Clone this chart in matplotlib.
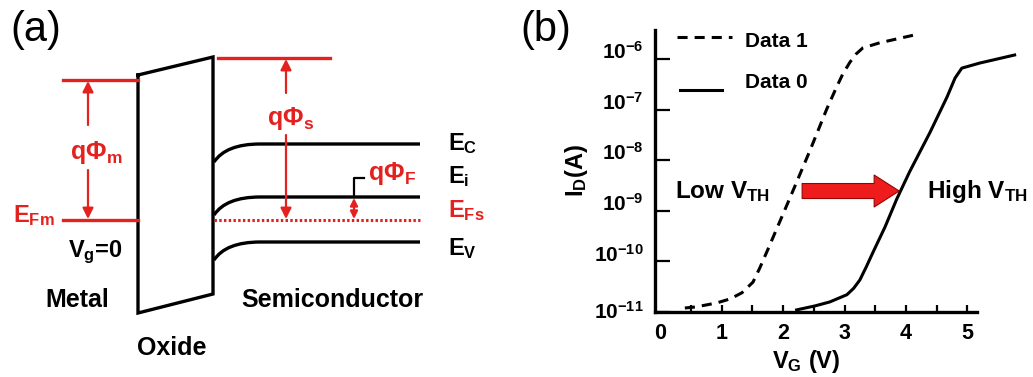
import numpy as np
import matplotlib
matplotlib.use('Agg')
import matplotlib.pyplot as plt
import matplotlib.patches as mpatches
from matplotlib.path import Path
from matplotlib.ticker import NullLocator

plt.rcParams['font.family'] = ['Liberation Sans', 'DejaVu Sans']
plt.rcParams['font.weight'] = 'bold'
plt.rcParams['mathtext.fontset'] = 'custom'
plt.rcParams['mathtext.rm'] = 'Liberation Sans:bold'
plt.rcParams['mathtext.it'] = 'Liberation Sans:bold'
plt.rcParams['mathtext.bf'] = 'Liberation Sans:bold'

RED = '#e3221f'
W, H = 1033, 377

# ---- (b) Id-Vg curves ----
vg_data1 = [0.4, 0.58, 0.92, 1.14, 1.33, 1.51, 1.62, 1.75, 2.11, 2.44, 2.71,
            2.85, 2.97, 3.09, 3.19, 3.3, 3.58, 4.12]
id_data1 = [1.2e-11, 1.26e-11, 1.51e-11, 1.82e-11, 2.4e-11, 3.9e-11, 7.4e-11,
            1.7e-10, 1.78e-9, 1.58e-8, 1.02e-7, 2.45e-7, 5.0e-7, 8.7e-7,
            1.26e-6, 1.66e-6, 2.1e-6, 2.95e-6]
vg_data0 = [2.22, 2.52, 2.76, 3.04, 3.15, 3.25, 3.35, 3.46, 3.66, 3.85, 4.06,
            4.39, 4.67, 4.8, 4.91, 5.2, 5.77]
id_data0 = [1.1e-11, 1.32e-11, 1.58e-11, 2.2e-11, 2.95e-11, 4.3e-11, 7.6e-11,
            1.48e-10, 4.8e-10, 1.7e-9, 5.9e-9, 3.5e-8, 1.78e-7, 4.2e-7, 6.6e-7,
            8.3e-7, 1.2e-6]
vg_ticks = [0, 1, 2, 3, 4, 5]
vg_minor = [0.5, 1.5, 2.5, 3.5, 4.5]
id_ticks = [1e-11, 1e-10, 1e-9, 1e-8, 1e-7, 1e-6]
id_ticklabels = [r'$10^{-11}$', r'$10^{-10}$', r'$10^{-9}$', r'$10^{-8}$',
                 r'$10^{-7}$', r'$10^{-6}$']
shift_vg = [2.31, 3.89]
shift_id = 2.46e-9

# ---- (a) band diagram levels (figure pixel space, y down) ----
metal_x = [63, 138]
vac_metal_y = 80
efm_y = 220
vac_semi_x = [218, 330]
vac_semi_y = 58
oxide_x = [138, 213, 213, 138]
oxide_y = [75, 57, 294, 313]
semi_x = [214, 420]
band_labels = [r'E$_C$', r'E$_i$', r'E$_V$']
band_y = [144, 197, 242]
band_label_y = [150, 183, 255]
bend = 18
efs_y = 220

fig = plt.figure(figsize=(W / 100, H / 100), dpi=100)

# panel (b)
ax = fig.add_axes([655 / W, (H - 312) / H, (1022.6 - 655) / W, 282 / H])
ax.set_yscale('log')
ax.plot(vg_data1, id_data1, color='k', lw=2.2, ls=(0, (3.3, 2.3)))
ax.plot(vg_data0, id_data0, color='k', lw=2.2, solid_joinstyle='round')
ax.set_xlim(-0.086, 5.9)
ax.set_ylim(1e-11, 10 ** -5.427)
ax.set_yticks(id_ticks)
ax.set_yticklabels(id_ticklabels, fontsize=15)
ax.yaxis.set_minor_locator(NullLocator())
for i, lab in enumerate(ax.get_yticklabels()):
    lab.set_va('center' if i == 0 else 'baseline')
ax.set_xticks(vg_ticks)
ax.set_xticklabels([str(v) for v in vg_ticks], fontsize=15.5)
ax.set_xticks(vg_minor, minor=True)
ax.tick_params(axis='y', direction='in', length=11, width=1.6, pad=8)
ax.tick_params(axis='x', which='both', direction='in', length=5, width=1.6, pad=8)
ax.xaxis.get_major_ticks()[0].tick1line.set_visible(False)
for s in ['top', 'right']:
    ax.spines[s].set_visible(False)
for s in ['left', 'bottom']:
    ax.spines[s].set_linewidth(2.4)
ax.spines['bottom'].set_bounds(-0.086, 5.16)
ax.patch.set_visible(False)
ax.annotate('', xy=(shift_vg[1], shift_id), xytext=(shift_vg[0], shift_id),
            arrowprops=dict(arrowstyle='simple,head_length=1.8,head_width=2.3,tail_width=1.08',
                            fc='#ee1c1c', ec='#9a0000', lw=0.8, mutation_scale=10,
                            shrinkA=0, shrinkB=0))

# overlay in pixel coordinates
ov = fig.add_axes([0, 0, 1, 1])
ov.set_xlim(0, W)
ov.set_ylim(H, 0)
ov.axis('off')

# legend and labels for (b)
ov.plot([677, 732], [37, 37], color='k', lw=2.2, ls=(0, (3.3, 2.3)))
ov.text(745, 47, 'Data 1', fontsize=15, va='baseline')
ov.plot([680, 722], [90, 90], color='k', lw=2.2)
ov.text(745, 88, 'Data 0', fontsize=15, va='baseline')
ov.text(806, 368, r'V$_G$ (V)', fontsize=17, ha='center', va='baseline')
ov.text(577, 170, r'I$_D$(A)', fontsize=17, rotation=90, ha='center', va='center')
ov.text(675, 198, r'Low V$_{TH}$', fontsize=17.5, va='baseline')
ov.text(927, 198, r'High V$_{TH}$', fontsize=17.5, va='baseline')

# panel (a)
ov.plot(oxide_x + oxide_x[:1], oxide_y + oxide_y[:1], color='k', lw=2.4,
        solid_joinstyle='miter')
ov.plot(metal_x, [vac_metal_y] * 2, color=RED, lw=2.4)
ov.plot(metal_x, [efm_y] * 2, color=RED, lw=2.4)
ov.plot(vac_semi_x, [vac_semi_y] * 2, color=RED, lw=2.4)
for y in band_y:
    verts = [(semi_x[0], y + bend), (226, y), (260, y), (semi_x[1], y)]
    codes = [Path.MOVETO, Path.CURVE3, Path.CURVE3, Path.LINETO]
    ov.add_patch(mpatches.PathPatch(Path(verts, codes), fill=False, ec='k', lw=2.4))
ov.plot(semi_x, [efs_y] * 2, color=RED, lw=2.2, ls=(0, (0.8, 0.75)))


def red_arrow(x, y0, y1, style='-|>', ms=16):
    ov.annotate('', xy=(x, y1), xytext=(x, y0),
                arrowprops=dict(arrowstyle=style, color=RED, lw=1.6,
                                mutation_scale=ms, shrinkA=0, shrinkB=0))


red_arrow(88, 125, vac_metal_y + 1)
red_arrow(88, 170, efm_y - 1)
red_arrow(286, 93, vac_semi_y + 1)
red_arrow(286, 135, efs_y - 1)
red_arrow(354, band_y[1] + 1, efs_y - 1, style='<|-|>', ms=11)
ov.plot([364, 354, 354], [178, 178, band_y[1]], color='k', lw=1.6)

ov.text(70, 159, r'qΦ$_m$', color=RED, fontsize=18, va='baseline')
ov.text(267, 125, r'qΦ$_s$', color=RED, fontsize=18, va='baseline')
ov.text(368, 180, r'qΦ$_F$', color=RED, fontsize=18, va='baseline')
ov.text(13, 222, r'E$_{Fm}$', color=RED, fontsize=17, va='baseline')
ov.text(448, 217, r'E$_{Fs}$', color=RED, fontsize=17, va='baseline')
for lab, y in zip(band_labels, band_label_y):
    ov.text(448, y, lab, fontsize=17, va='baseline')
ov.text(68, 257, r'V$_g$=0', fontsize=17, va='baseline')
ov.text(77, 307, 'Metal', fontsize=18, ha='center', va='baseline')
ov.text(332, 307, 'Semiconductor', fontsize=18, ha='center', va='baseline')
ov.text(172, 355, 'Oxide', fontsize=18, ha='center', va='baseline')

ov.text(10, 41, '(a)', fontsize=30, fontweight='normal', va='baseline')
ov.text(520, 41, '(b)', fontsize=30, fontweight='normal', va='baseline')

fig.savefig('out.png', dpi=100)
